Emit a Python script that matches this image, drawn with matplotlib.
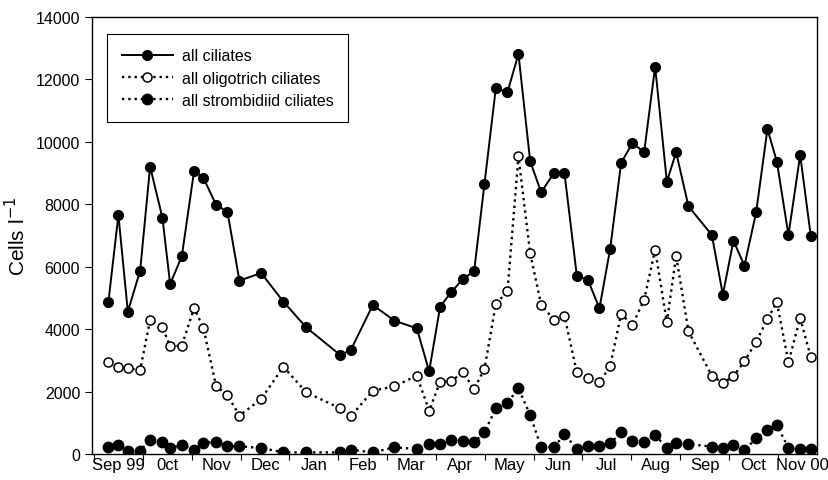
import numpy as np
import matplotlib
matplotlib.use('Agg')
import matplotlib.pyplot as plt

plt.rcParams['font.family'] = ['Liberation Sans', 'DejaVu Sans']

# sampling time, months since 1 Sep 1999
t_month = [0.296, 0.500, 0.693, 0.945, 1.149, 1.401, 1.559, 1.798, 2.050, 2.241,
           2.501, 2.732, 2.977, 3.422, 3.878, 4.343, 5.039, 5.258, 5.708, 6.150,
           6.609, 6.861, 7.086, 7.311, 7.551, 7.782, 7.993, 8.226, 8.464, 8.689,
           8.929, 9.154, 9.420, 9.630, 9.884, 10.109, 10.347, 10.566, 10.791, 11.022,
           11.262, 11.487, 11.727, 11.917, 12.169, 12.648, 12.873, 13.090, 13.315, 13.555,
           13.786, 13.979, 14.216, 14.456, 14.674]

# cells per litre
all_ciliates = [4880, 7657, 4560, 5873, 9205, 7571, 5447, 6334, 9077, 8843,
                7978, 7763, 5553, 5799, 4880, 4059, 3172, 3332, 4774, 4271,
                4027, 2650, 4720, 5181, 5607, 5854, 8651, 11717, 11589, 12816,
                9378, 8385, 9013, 9013, 5713, 5585, 4668, 6568, 9324, 9964,
                9667, 12409, 8725, 9667, 7936, 7017, 5104, 6834, 6033, 7744,
                10413, 9365, 7017, 9580, 6975]

oligotrich = [2938, 2778, 2746, 2691, 4293, 4059, 3451, 3470, 4678, 4037,
              2169, 1890, 1228, 1762, 2797, 1977, 1464, 1208, 2028, 2169,
              2509, 1387, 2317, 2329, 2618, 2083, 2723, 4806, 5213, 9538,
              6430, 4784, 4293, 4431, 2618, 2425, 2297, 2810, 4486, 4133,
              4944, 6546, 4220, 6354, 3931, 2509, 2275, 2489, 2970, 3598,
              4325, 4860, 2938, 4357, 3098]

strombidiid = [235, 299, 107, 107, 449, 374, 182, 299, 128, 352,
               395, 246, 246, 192, 53, 53, 53, 139, 53, 214,
               160, 320, 320, 459, 427, 374, 694, 1463, 1634, 2104,
               1250, 214, 214, 641, 160, 267, 267, 342, 694, 406,
               374, 609, 192, 352, 320, 235, 182, 299, 128, 502,
               769, 929, 192, 160, 160]

month_labels = ['Sep 99', '0ct', 'Nov', 'Dec', 'Jan', 'Feb', 'Mar', 'Apr',
                'May', 'Jun', 'Jul', 'Aug', 'Sep', 'Oct', 'Nov 00']

fig = plt.figure(figsize=(8.29, 4.81), dpi=100)
ax = fig.add_axes([0.111, 0.054, 0.8745, 0.9086])

ax.plot(t_month, all_ciliates, '-', color='black', lw=1.4, marker='o',
        ms=7, mfc='black', mec='black', label='all ciliates', zorder=3)
ax.plot(t_month, oligotrich, ':', color='black', lw=1.7, marker='o',
        ms=6.5, mfc='white', mec='black', mew=1.1, label='all oligotrich ciliates', zorder=3)
ax.plot(t_month, strombidiid, ':', color='black', lw=1.7, marker='o',
        ms=7.5, mfc='black', mec='black', label='all strombidiid ciliates', zorder=4)

ax.set_xlim(-0.04, 14.80)
ax.set_ylim(0, 14000)
ax.set_yticks(np.arange(0, 14001, 2000))
ax.tick_params(axis='y', labelsize=11.5, direction='out', length=5, width=0.8)

# month boundaries as ticks, names centred within each month
ax.set_xticks(np.arange(0, 15))
ax.set_xticklabels([])
ax.set_xticks(np.arange(0, 15) + 0.5, minor=True)
ax.set_xticklabels(month_labels, minor=True, fontsize=12)
ax.tick_params(axis='x', which='major', direction='out', length=4, width=0.8)
ax.tick_params(axis='x', which='minor', length=0, pad=2)

ax.set_ylabel('Cells l$^{-1}$', fontsize=15, labelpad=5)

for s in ax.spines.values():
    s.set_linewidth(1.0)

leg = ax.legend(loc='upper left', bbox_to_anchor=(0.021, 0.961), fontsize=11.5,
                frameon=True, fancybox=False, edgecolor='black', framealpha=1,
                handlelength=3.2, handletextpad=0.6, borderpad=0.9,
                labelspacing=0.45, borderaxespad=0)
leg.get_frame().set_linewidth(0.8)

fig.savefig('out.png', dpi=100)
